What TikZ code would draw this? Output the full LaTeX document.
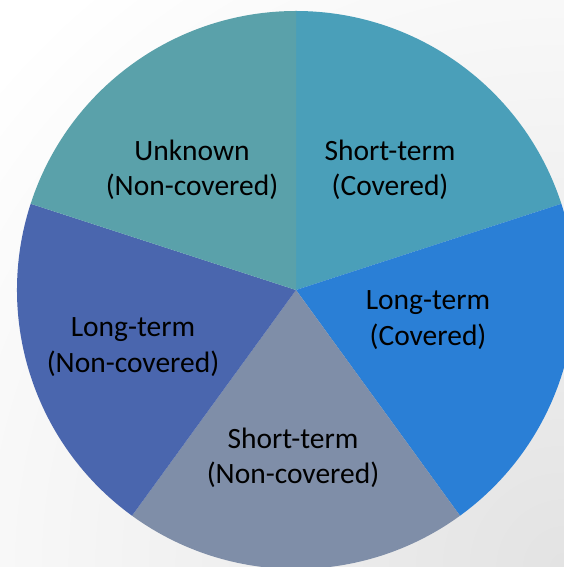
\documentclass[tikz,border=0pt]{standalone}
\usepackage{fontspec}
\setmainfont{Carlito}
\definecolor{cSTC}{HTML}{4A9FB9}
\definecolor{cLTC}{HTML}{2A7FD6}
\definecolor{cSTN}{HTML}{7F8EA8}
\definecolor{cLTN}{HTML}{4A66AE}
\definecolor{cUNK}{HTML}{5AA1AA}
\tikzset{
  lbl/.style={align=center, text=black, inner sep=0pt, font=\fontsize{29.6}{35.5}\selectfont},
}
\begin{document}
\begin{tikzpicture}[x=1bp,y=1bp]
\useasboundingbox (0,0) rectangle (564,567);
\clip (0,0) rectangle (564,567);
\fill[white] (0,0) rectangle (564,567);
\shade[inner color=black!11, outer color=white] (564,0) circle (750);
\coordinate (c) at (296,277);
\fill[cSTC] (c) -- ++(90:279) arc[start angle=90, end angle=18, radius=279] -- cycle;
\fill[cLTC] (c) -- ++(18:279) arc[start angle=18, end angle=-54, radius=279] -- cycle;
\fill[cSTN] (c) -- ++(-54:279) arc[start angle=-54, end angle=-126, radius=279] -- cycle;
\fill[cLTN] (c) -- ++(-126:279) arc[start angle=-126, end angle=-198, radius=279] -- cycle;
\fill[cUNK] (c) -- ++(162:279) arc[start angle=162, end angle=90, radius=279] -- cycle;
\node[lbl] (unk) at (192,397) {Unknown\\(Non-covered)};
\node[lbl] (stc) at (390,397) {Short-term\\(Covered)};
\node[lbl] (ltc) at (428,247) {Long-term\\(Covered)};
\node[lbl] (ltn) at (133,220) {Long-term\\(Non-covered)};
\node[lbl] (stn) at (293,109) {Short-term\\(Non-covered)};
\end{tikzpicture}
\end{document}
